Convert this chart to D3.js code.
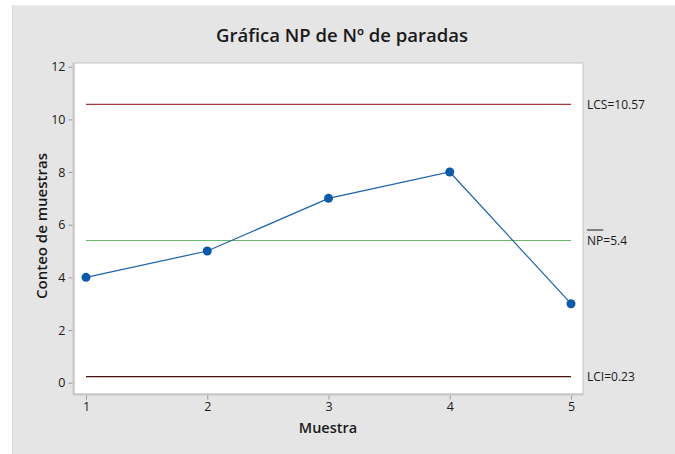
<!DOCTYPE html>
<html><head><meta charset="utf-8">
<script src="https://cdn.jsdelivr.net/npm/d3@7"></script>
<style>
html,body{margin:0;padding:0;background:#fff;}
svg{display:block;}
text{font-family:"Open Sans","Noto Sans",sans-serif;fill:#1a1a1a;}
</style></head>
<body><svg id="c" width="675" height="454"></svg>
<script>
const samples = [1, 2, 3, 4, 5];
const counts = [4, 5, 7, 8, 3];
const yTicks = [0, 2, 4, 6, 8, 10, 12];
const limits = [
  {name: "LCS", value: 10.57, label: "LCS=10.57"},
  {name: "NP", value: 5.4, label: "NP=5.4"},
  {name: "LCI", value: 0.23, label: "LCI=0.23"}
];
const limitColors = {LCS: "#a83a3c", NP: "#6cb86c", LCI: "#4a1010"};

const svg = d3.select("#c");
svg.append("rect").attr("x", 12).attr("y", 5).attr("width", 663).attr("height", 449).attr("fill", "#e5e5e5");
svg.append("line").attr("x1", 12.5).attr("x2", 12.5).attr("y1", 5).attr("y2", 454).attr("stroke", "#d6d6d6");
svg.append("line").attr("x1", 12).attr("x2", 675).attr("y1", 5.5).attr("y2", 5.5).attr("stroke", "#ececec");

const pl = 74, pt = 63, pr = 583, pb = 394;
const x = d3.scaleLinear().domain([1, 5]).range([86, 571]);
const y = d3.scaleLinear().domain([0, 12]).range([382.7, 66.7]);

svg.append("rect").attr("x", pl).attr("y", pt).attr("width", pr - pl).attr("height", pb - pt)
  .attr("fill", "#fff").attr("stroke", "#c4c4c4").attr("stroke-width", 1);
svg.append("line").attr("x1", pl - 0.5).attr("x2", pl - 0.5).attr("y1", pt).attr("y2", pb + 1).attr("stroke", "#c8c8c8").attr("stroke-width", 2);
svg.append("line").attr("x1", pl - 1).attr("x2", pr + 0.5).attr("y1", pb + 0.5).attr("y2", pb + 0.5).attr("stroke", "#c8c8c8").attr("stroke-width", 2);

// axes
const yAxis = d3.axisLeft(y).tickValues(yTicks).tickSize(4).tickPadding(3);
const gy = svg.append("g").attr("transform", `translate(${pl - 1.5},0)`).call(yAxis);
const xAxis = d3.axisBottom(x).tickValues(samples).tickFormat(d3.format("d")).tickSize(4).tickPadding(3);
const gx = svg.append("g").attr("transform", `translate(0,${pb + 1.5})`).call(xAxis);
[gy, gx].forEach(g => {
  g.select(".domain").remove();
  g.selectAll(".tick line").attr("stroke", "#999");
  g.selectAll(".tick text").attr("font-size", 12.5).attr("fill", "#1a1a1a")
    .style("font-family", '"Open Sans","Noto Sans",sans-serif');
});

// limit lines
svg.selectAll("line.lim").data(limits).enter().append("line").attr("class", "lim")
  .attr("x1", x(1)).attr("x2", x(5))
  .attr("y1", d => y(d.value)).attr("y2", d => y(d.value))
  .attr("stroke", d => limitColors[d.name]).attr("stroke-width", 1.2);

// data line
const line = d3.line().x((d, i) => x(samples[i])).y(d => y(d));
svg.append("path").datum(counts).attr("d", line).attr("fill", "none")
  .attr("stroke", "#1c62b0").attr("stroke-width", 1.2);
svg.selectAll("circle.pt").data(counts).enter().append("circle").attr("class", "pt")
  .attr("cx", (d, i) => x(samples[i])).attr("cy", d => y(d)).attr("r", 4.5)
  .attr("fill", "#0a5aab");

// right labels
limits.forEach(d => {
  const t = svg.append("text").attr("x", 587).attr("y", y(d.value) + 4.5)
    .attr("font-size", 12).text(d.label);
  if (d.name === "NP") {
    t.text("");
    const ts = t.append("tspan").text("NP");
    t.append("tspan").text("=5.4");
    const w = ts.node().getComputedTextLength();
    svg.append("line").attr("x1", 587).attr("x2", 587 + w).attr("y1", y(d.value) - 10.5).attr("y2", y(d.value) - 10.5)
      .attr("stroke", "#1a1a1a").attr("stroke-width", 1);
  }
});

// titles
svg.append("text").attr("x", 342).attr("y", 42).attr("text-anchor", "middle")
  .attr("font-size", 18.5).attr("font-weight", 600).text("Gráfica NP de Nº de paradas");
svg.append("text").attr("x", 328).attr("y", 433).attr("text-anchor", "middle")
  .attr("font-size", 14.5).attr("font-weight", 600).text("Muestra");
svg.append("text").attr("transform", "translate(47,226) rotate(-90)").attr("text-anchor", "middle")
  .attr("font-size", 15).attr("font-weight", 600).text("Conteo de muestras");
</script></body></html>
